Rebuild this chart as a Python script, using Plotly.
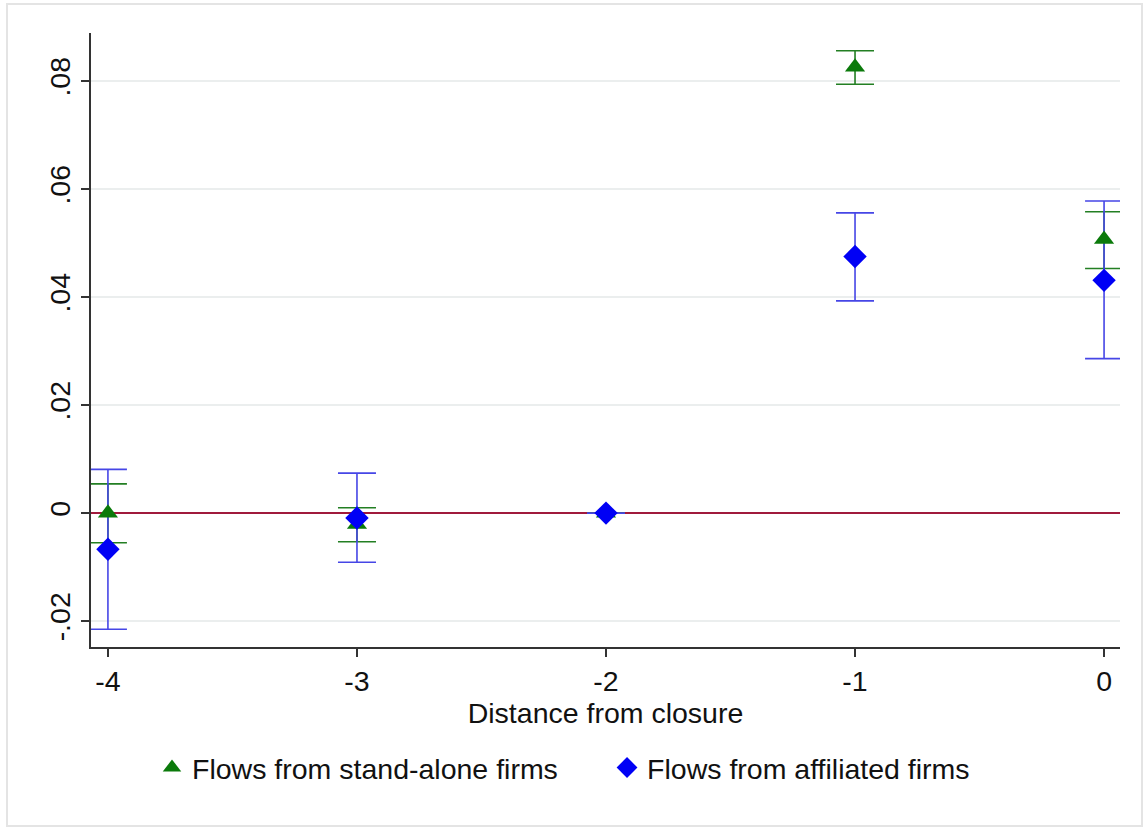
import plotly.graph_objects as go

# Data
periods = [-4, -3, -2, -1, 0]
stand_point = [0.0000, -0.0021, 0.0000, 0.0826, 0.0507]
stand_low = [-0.0055, -0.0053, 0.0000, 0.0794, 0.0453]
stand_high = [0.0054, 0.0010, 0.0000, 0.0856, 0.0558]
affil_point = [-0.0067, -0.0009, 0.0000, 0.0475, 0.0431]
affil_low = [-0.0215, -0.0091, 0.0000, 0.0393, 0.0286]
affil_high = [0.0081, 0.0074, 0.0000, 0.0556, 0.0578]

x_ticks = [-4, -3, -2, -1, 0]
x_tick_labels = ["-4", "-3", "-2", "-1", "0"]
y_ticks = [-0.02, 0, 0.02, 0.04, 0.06, 0.08]
y_tick_labels = ["-.02", "0", ".02", ".04", ".06", ".08"]

FONT = "Liberation Sans, Arial, sans-serif"
FS = 28.5
GREEN_BAR = "#237f23"
GREEN_MK = "#0b7a0b"
BLUE_BAR = "#4646e6"
BLUE_MK = "#0000f5"

fig = go.Figure()

def err(points, low, high):
    plus = [h - p for p, h in zip(points, high)]
    minus = [p - l for p, l in zip(points, low)]
    return plus, minus

sp, sm = err(stand_point, stand_low, stand_high)
ap, am = err(affil_point, affil_low, affil_high)

fig.add_trace(go.Scatter(
    x=periods, y=stand_point, mode="markers",
    marker=dict(size=1, opacity=0),
    error_y=dict(type="data", symmetric=False, array=sp, arrayminus=sm,
                 color=GREEN_BAR, thickness=1.6, width=19),
    showlegend=False, hoverinfo="skip"))
fig.add_trace(go.Scatter(
    x=periods, y=affil_point, mode="markers",
    marker=dict(size=1, opacity=0),
    error_y=dict(type="data", symmetric=False, array=ap, arrayminus=am,
                 color=BLUE_BAR, thickness=1.6, width=19),
    showlegend=False, hoverinfo="skip"))

fig.add_trace(go.Scatter(
    x=periods, y=stand_point, mode="markers",
    name="Flows from stand-alone firms",
    marker=dict(symbol="triangle-up", size=17.5, color=GREEN_MK, line=dict(width=0)),
    legend="legend"))
fig.add_trace(go.Scatter(
    x=periods, y=affil_point, mode="markers",
    name="Flows from affiliated firms",
    marker=dict(symbol="diamond", size=18, color=BLUE_MK, line=dict(width=0)),
    legend="legend2"))

# outer frame
fig.add_shape(type="rect", xref="paper", yref="paper",
              x0=-0.0816, x1=1.0214, y0=-0.2915, y1=1.0472,
              line=dict(color="#e4e4e4", width=2), layer="below")

fig.update_layout(
    width=1146, height=830,
    margin=dict(l=91, r=26, t=33, b=183),
    paper_bgcolor="white", plot_bgcolor="white",
    font=dict(family=FONT, size=FS, color="#111111"),
    xaxis=dict(range=[-4.068, 0.064], tickvals=x_ticks, ticktext=x_tick_labels,
               showgrid=False, zeroline=False, showline=True, linecolor="#333333",
               linewidth=1.5, ticks="outside", ticklen=8, tickwidth=1.5,
               tickcolor="#333333", tickfont=dict(size=FS),
               title=dict(text="Distance from closure", font=dict(size=FS), standoff=2)),
    yaxis=dict(range=[-0.0248, 0.0889], tickvals=y_ticks, ticktext=y_tick_labels,
               showgrid=True, gridcolor="#ebeeee", gridwidth=1.5,
               zeroline=True, zerolinecolor="#a01a3c", zerolinewidth=2,
               showline=True, linecolor="#333333", linewidth=1.5, ticks="outside",
               ticklen=8, tickwidth=1.5, tickcolor="#333333", tickangle=-90,
               tickfont=dict(size=FS)),
    legend=dict(x=0.0593, y=-0.197, xanchor="left", yanchor="middle",
                orientation="h", font=dict(size=FS), bgcolor="rgba(0,0,0,0)"),
    legend2=dict(x=0.5015, y=-0.197, xanchor="left", yanchor="middle",
                 orientation="h", font=dict(size=FS), bgcolor="rgba(0,0,0,0)"),
)

fig.write_html("out.html")
